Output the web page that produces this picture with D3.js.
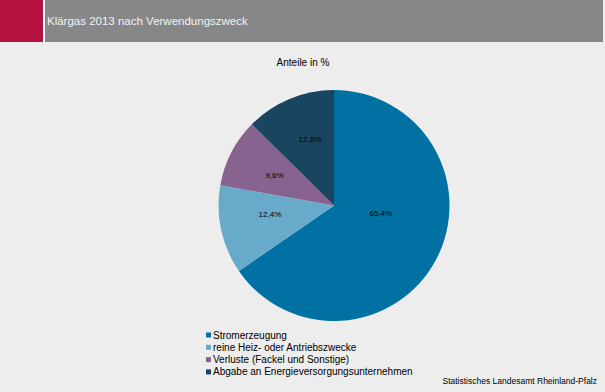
<!DOCTYPE html>
<html>
<head>
<meta charset="utf-8">
<script src="https://cdn.jsdelivr.net/npm/d3@7"></script>
<style>
  html, body { margin: 0; padding: 0; background: #ecedec; }
  svg { display: block; font-family: "Liberation Sans", Arial, sans-serif; }
</style>
</head>
<body>
<svg id="chart" width="605" height="392"></svg>
<script>
const chartTitle = "Klärgas 2013 nach Verwendungszweck";
const subTitle = "Anteile in %";
const source = "Statistisches Landesamt Rheinland-Pfalz";
const categories = [
  "Stromerzeugung",
  "reine Heiz- oder Antriebszwecke",
  "Verluste (Fackel und Sonstige)",
  "Abgabe an Energieversorgungsunternehmen"
];
const values = [65.4, 12.4, 9.6, 12.6];
const colors = ["#0071a2", "#68aac9", "#88638f", "#1a4560"];
// label placement within each slice: fraction of slice angle, fraction of radius
const labelAngleFrac = [0.42, 0.6, 0.5, 0.56];
const labelRadiusFrac = [0.41, 0.56, 0.58, 0.61];

const svg = d3.select("#chart");
const W = 605, H = 392;

// background with subtle dots
const defs = svg.append("defs");
const pat = defs.append("pattern").attr("id", "dots").attr("width", 9).attr("height", 9)
  .attr("patternUnits", "userSpaceOnUse");
pat.append("rect").attr("width", 9).attr("height", 9).attr("fill", "#ecedec");
pat.append("rect").attr("x", 2).attr("y", 3).attr("width", 1).attr("height", 1).attr("fill", "#f7f7ea");
pat.append("rect").attr("x", 7).attr("y", 7).attr("width", 1).attr("height", 1).attr("fill", "#f5f5ec");
svg.append("rect").attr("width", W).attr("height", H).attr("fill", "url(#dots)");

// header
svg.append("rect").attr("x", 0).attr("y", 0).attr("width", W).attr("height", 42).attr("fill", "#868788");
svg.append("rect").attr("x", 0).attr("y", 0).attr("width", 43).attr("height", 42).attr("fill", "#b5113f");
svg.append("rect").attr("x", 43).attr("y", 0).attr("width", 2).attr("height", 42).attr("fill", "#ffffff");
svg.append("rect").attr("x", 603).attr("y", 0).attr("width", 2).attr("height", 42).attr("fill", "#ecedec");
svg.append("text").attr("x", 47).attr("y", 25).attr("fill", "#f4f4f4")
  .attr("font-size", "11.5px").text(chartTitle);

// subtitle
svg.append("text").attr("x", 303).attr("y", 66).attr("text-anchor", "middle")
  .attr("font-size", "10px").attr("fill", "#000").text(subTitle);

// pie
const cx = 334, cy = 205.5, R = 115.5;
const data = categories.map((c, i) => ({ cat: c, value: values[i], color: colors[i], i }));
const pie = d3.pie().value(d => d.value).sort(null);
const arcs = pie(data);
const arc = d3.arc().innerRadius(0).outerRadius(R);
const g = svg.append("g").attr("transform", `translate(${cx},${cy})`);
g.selectAll("path").data(arcs).join("path")
  .attr("d", arc).attr("fill", d => d.data.color);

g.selectAll("text.lbl").data(arcs).join("text").attr("class", "lbl")
  .attr("transform", d => {
    const a = d.startAngle + (d.endAngle - d.startAngle) * labelAngleFrac[d.index];
    const r = R * labelRadiusFrac[d.index];
    return `translate(${r * Math.sin(a)},${-r * Math.cos(a)})`;
  })
  .attr("text-anchor", "middle").attr("dy", "0.35em")
  .attr("font-size", "8px").attr("fill", "#000")
  .text(d => d3.format(".1f")(d.data.value).replace(".", ",") + "%");

// legend
const leg = svg.append("g").attr("transform", "translate(206,335)");
const rows = leg.selectAll("g").data(data).join("g")
  .attr("transform", (d, i) => `translate(0,${i * 12.3})`);
rows.append("rect").attr("x", 0).attr("y", -2.5).attr("width", 5).attr("height", 5).attr("fill", d => d.color);
rows.append("text").attr("x", 7).attr("y", 0).attr("dy", "0.35em")
  .attr("font-size", "10px").attr("fill", "#000").text(d => d.cat);

// source
svg.append("text").attr("x", 597).attr("y", 384).attr("text-anchor", "end")
  .attr("font-size", "8.5px").attr("fill", "#000").text(source);
</script>
</body>
</html>
